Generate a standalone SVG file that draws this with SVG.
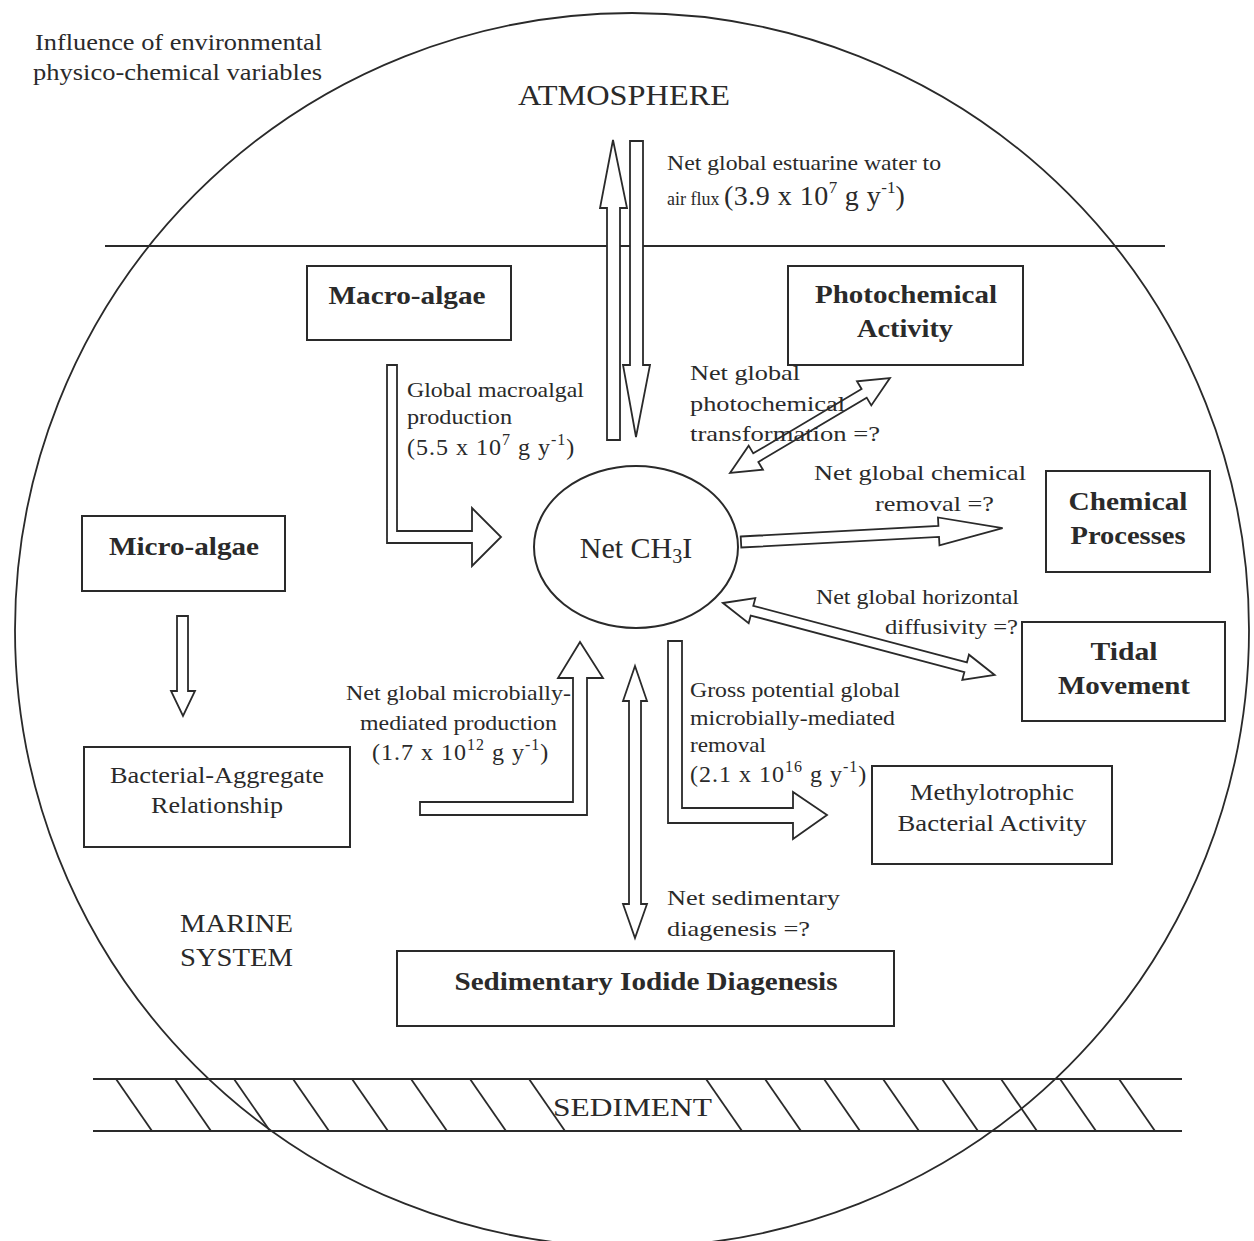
<svg xmlns="http://www.w3.org/2000/svg" width="1254" height="1241" viewBox="0 0 1254 1241">
  <defs>
    <style>
      .txt { font-family: "Liberation Serif", "Times New Roman", serif; fill: #2a2a2a; }
      .lbl { font-size: 21px; }
      .node { font-size: 23px; }
      .bold { font-size: 25px; font-weight: bold; }
      .flux { font-size: 24px; letter-spacing: 1px; }
      .box { fill: #ffffff; stroke: #2a2a2a; stroke-width: 2; }
      .line { fill: none; stroke: #2a2a2a; stroke-width: 1.8; }
      .arrow { fill: #ffffff; stroke: #2a2a2a; stroke-width: 1.8; stroke-linejoin: miter; }
    </style>
  </defs>
  <rect x="0" y="0" width="1254" height="1241" fill="#ffffff"/>

  <!-- system boundaries -->
  <g id="boundaries">
    <circle class="line" cx="632" cy="630" r="617"/>
    <line class="line" x1="105" y1="246" x2="1165" y2="246"/>
    <line class="line" x1="93" y1="1079" x2="1182" y2="1079"/>
    <line class="line" x1="93" y1="1131" x2="1182" y2="1131"/>
    <g class="line">
      <line x1="116" y1="1079" x2="152" y2="1131"/>
      <line x1="175" y1="1079" x2="211" y2="1131"/>
      <line x1="234" y1="1079" x2="270" y2="1131"/>
      <line x1="293" y1="1079" x2="329" y2="1131"/>
      <line x1="352" y1="1079" x2="388" y2="1131"/>
      <line x1="411" y1="1079" x2="447" y2="1131"/>
      <line x1="470" y1="1079" x2="506" y2="1131"/>
      <line x1="529" y1="1079" x2="565" y2="1131"/>
      <line x1="706" y1="1079" x2="742" y2="1131"/>
      <line x1="765" y1="1079" x2="801" y2="1131"/>
      <line x1="824" y1="1079" x2="860" y2="1131"/>
      <line x1="883" y1="1079" x2="919" y2="1131"/>
      <line x1="942" y1="1079" x2="978" y2="1131"/>
      <line x1="1001" y1="1079" x2="1037" y2="1131"/>
      <line x1="1060" y1="1079" x2="1096" y2="1131"/>
      <line x1="1119" y1="1079" x2="1155" y2="1131"/>
    </g>
  </g>

  <!-- region and context labels -->
  <g id="labels" class="txt">
    <text x="35" y="50" font-size="23" textLength="287" lengthAdjust="spacingAndGlyphs">Influence of environmental</text>
    <text x="33" y="80" font-size="23" textLength="289" lengthAdjust="spacingAndGlyphs">physico-chemical variables</text>
    <text x="518" y="105" font-size="29" textLength="212" lengthAdjust="spacingAndGlyphs">ATMOSPHERE</text>
    <text x="180" y="932" font-size="25" textLength="113" lengthAdjust="spacingAndGlyphs">MARINE</text>
    <text x="180" y="966" font-size="25" textLength="113" lengthAdjust="spacingAndGlyphs">SYSTEM</text>
    <text x="553" y="1116" font-size="26" textLength="159" lengthAdjust="spacingAndGlyphs">SEDIMENT</text>
  </g>

  <!-- connectors -->
  <g id="connectors">
    <!-- water to air flux -->
    <polygon class="arrow" points="607,440 607,208 600,208 613,140 627,208 620,208 620,440"/>
    <polygon class="arrow" points="630,141 643,141 643,365 650,365 636,437 623,365 630,365"/>
    <!-- macroalgal production -->
    <polygon class="arrow" points="387,365 397,365 397,531 472,531 472,508 501,537 472,566 472,543 387,543"/>
    <!-- microbially-mediated production -->
    <polygon class="arrow" points="420,802 573,802 573,678 558,678 580,642 603,678 587,678 587,815 420,815"/>
    <!-- microbially-mediated removal -->
    <polygon class="arrow" points="668,641 682,641 682,808 793,808 793,792 827,815 793,839 793,823 668,823"/>
    <!-- micro-algae to bacterial aggregates -->
    <polygon class="arrow" points="177,616 188,616 188,691 195,691 183,716 171,691 177,691"/>
    <!-- sedimentary diagenesis (two-way) -->
    <polygon class="arrow" points="635,666 647,701 641,701 641,904 647,904 635,938 623,904 629,904 629,701 623,701"/>
    <!-- photochemical transformation (two-way) -->
    <polygon class="arrow" transform="translate(730,473) rotate(-30.7)" points="0,0 30,-14 30,-5 156,-5 156,-14 186,0 156,14 156,5 30,5 30,14"/>
    <!-- chemical removal -->
    <polygon class="arrow" transform="translate(741,542) rotate(-3.06)" points="0,-5.5 198,-5.5 198,-14 262,0 198,14 198,5.5 0,5.5"/>
    <!-- horizontal diffusivity (two-way) -->
    <polygon class="arrow" transform="translate(723,603) rotate(14.83)" points="0,0 30,-13 30,-5 251,-5 251,-13 281,0 251,13 251,5 30,5 30,13"/>
  </g>

  <!-- flux labels -->
  <g id="flux-labels" class="txt lbl">
    <text x="667" y="170" textLength="274" lengthAdjust="spacingAndGlyphs">Net global estuarine water to</text>
    <text x="667" y="205"><tspan font-size="18">air flux </tspan><tspan font-size="28" letter-spacing="0.5">(3.9 x 10</tspan><tspan font-size="17" dy="-12">7</tspan><tspan font-size="28" dy="12" letter-spacing="0.5"> g y</tspan><tspan font-size="17" dy="-12">-1</tspan><tspan font-size="28" dy="12">)</tspan></text>

    <text x="407" y="397" textLength="177" lengthAdjust="spacingAndGlyphs">Global macroalgal</text>
    <text x="407" y="424" textLength="105" lengthAdjust="spacingAndGlyphs">production</text>
    <text class="flux" x="407" y="455">(5.5 x 10<tspan font-size="16" dy="-10">7</tspan><tspan dy="10"> g y</tspan><tspan font-size="16" dy="-10">-1</tspan><tspan dy="10">)</tspan></text>

    <text x="690" y="380" textLength="110" lengthAdjust="spacingAndGlyphs">Net global</text>
    <text x="690" y="411" textLength="155" lengthAdjust="spacingAndGlyphs">photochemical</text>
    <text x="690" y="441" textLength="190" lengthAdjust="spacingAndGlyphs">transformation =?</text>

    <text x="814" y="480" textLength="212" lengthAdjust="spacingAndGlyphs">Net global chemical</text>
    <text x="875" y="511" textLength="119" lengthAdjust="spacingAndGlyphs">removal =?</text>

    <text x="816" y="604" textLength="203" lengthAdjust="spacingAndGlyphs">Net global horizontal</text>
    <text x="885" y="634" textLength="133" lengthAdjust="spacingAndGlyphs">diffusivity =?</text>

    <text x="690" y="697" textLength="210" lengthAdjust="spacingAndGlyphs">Gross potential global</text>
    <text x="690" y="725" textLength="205" lengthAdjust="spacingAndGlyphs">microbially-mediated</text>
    <text x="690" y="752" textLength="76" lengthAdjust="spacingAndGlyphs">removal</text>
    <text class="flux" x="690" y="782">(2.1 x 10<tspan font-size="16" dy="-10">16</tspan><tspan dy="10"> g y</tspan><tspan font-size="16" dy="-10">-1</tspan><tspan dy="10">)</tspan></text>

    <text x="346" y="700" textLength="225" lengthAdjust="spacingAndGlyphs">Net global microbially-</text>
    <text x="360" y="730" textLength="197" lengthAdjust="spacingAndGlyphs">mediated production</text>
    <text class="flux" x="372" y="760">(1.7 x 10<tspan font-size="16" dy="-10">12</tspan><tspan dy="10"> g y</tspan><tspan font-size="16" dy="-10">-1</tspan><tspan dy="10">)</tspan></text>

    <text x="667" y="905" textLength="173" lengthAdjust="spacingAndGlyphs">Net sedimentary</text>
    <text x="667" y="936" textLength="143" lengthAdjust="spacingAndGlyphs">diagenesis =?</text>
  </g>

  <!-- nodes -->
  <g id="node-macro-algae">
    <rect class="box" x="307" y="266" width="204" height="74"/>
    <text class="txt bold" x="407" y="304" text-anchor="middle" textLength="157" lengthAdjust="spacingAndGlyphs">Macro-algae</text>
  </g>
  <g id="node-photochemical">
    <rect class="box" x="788" y="266" width="235" height="99" style="fill:none"/>
    <text class="txt bold" x="906" y="303" text-anchor="middle" textLength="182" lengthAdjust="spacingAndGlyphs">Photochemical</text>
    <text class="txt bold" x="905" y="337" text-anchor="middle" textLength="96" lengthAdjust="spacingAndGlyphs">Activity</text>
  </g>
  <g id="node-chemical">
    <rect class="box" x="1046" y="471" width="164" height="101"/>
    <text class="txt bold" x="1128" y="510" text-anchor="middle" textLength="119" lengthAdjust="spacingAndGlyphs">Chemical</text>
    <text class="txt bold" x="1128" y="544" text-anchor="middle" textLength="115" lengthAdjust="spacingAndGlyphs">Processes</text>
  </g>
  <g id="node-tidal">
    <rect class="box" x="1022" y="622" width="203" height="99"/>
    <text class="txt bold" x="1124" y="660" text-anchor="middle" textLength="67" lengthAdjust="spacingAndGlyphs">Tidal</text>
    <text class="txt bold" x="1124" y="694" text-anchor="middle" textLength="132" lengthAdjust="spacingAndGlyphs">Movement</text>
  </g>
  <g id="node-micro-algae">
    <rect class="box" x="82" y="516" width="203" height="75"/>
    <text class="txt bold" x="184" y="555" text-anchor="middle" textLength="150" lengthAdjust="spacingAndGlyphs">Micro-algae</text>
  </g>
  <g id="node-bacterial-aggregate">
    <rect class="box" x="84" y="747" width="266" height="100"/>
    <text class="txt node" x="217" y="783" text-anchor="middle" textLength="214" lengthAdjust="spacingAndGlyphs">Bacterial-Aggregate</text>
    <text class="txt node" x="217" y="813" text-anchor="middle" textLength="132" lengthAdjust="spacingAndGlyphs">Relationship</text>
  </g>
  <g id="node-methylotrophic">
    <rect class="box" x="872" y="766" width="240" height="98"/>
    <text class="txt node" x="992" y="800" text-anchor="middle" textLength="164" lengthAdjust="spacingAndGlyphs">Methylotrophic</text>
    <text class="txt node" x="992" y="831" text-anchor="middle" textLength="189" lengthAdjust="spacingAndGlyphs">Bacterial Activity</text>
  </g>
  <g id="node-sedimentary">
    <rect class="box" x="397" y="951" width="497" height="75"/>
    <text class="txt bold" x="646" y="990" text-anchor="middle" textLength="383" lengthAdjust="spacingAndGlyphs">Sedimentary Iodide Diagenesis</text>
  </g>
  <g id="node-net-ch3i">
    <ellipse class="box" cx="636" cy="547" rx="102" ry="81"/>
    <text class="txt" x="636" y="558" text-anchor="middle" font-size="30">Net CH<tspan font-size="20" dy="5">3</tspan><tspan dy="-5">I</tspan></text>
  </g>
</svg>
